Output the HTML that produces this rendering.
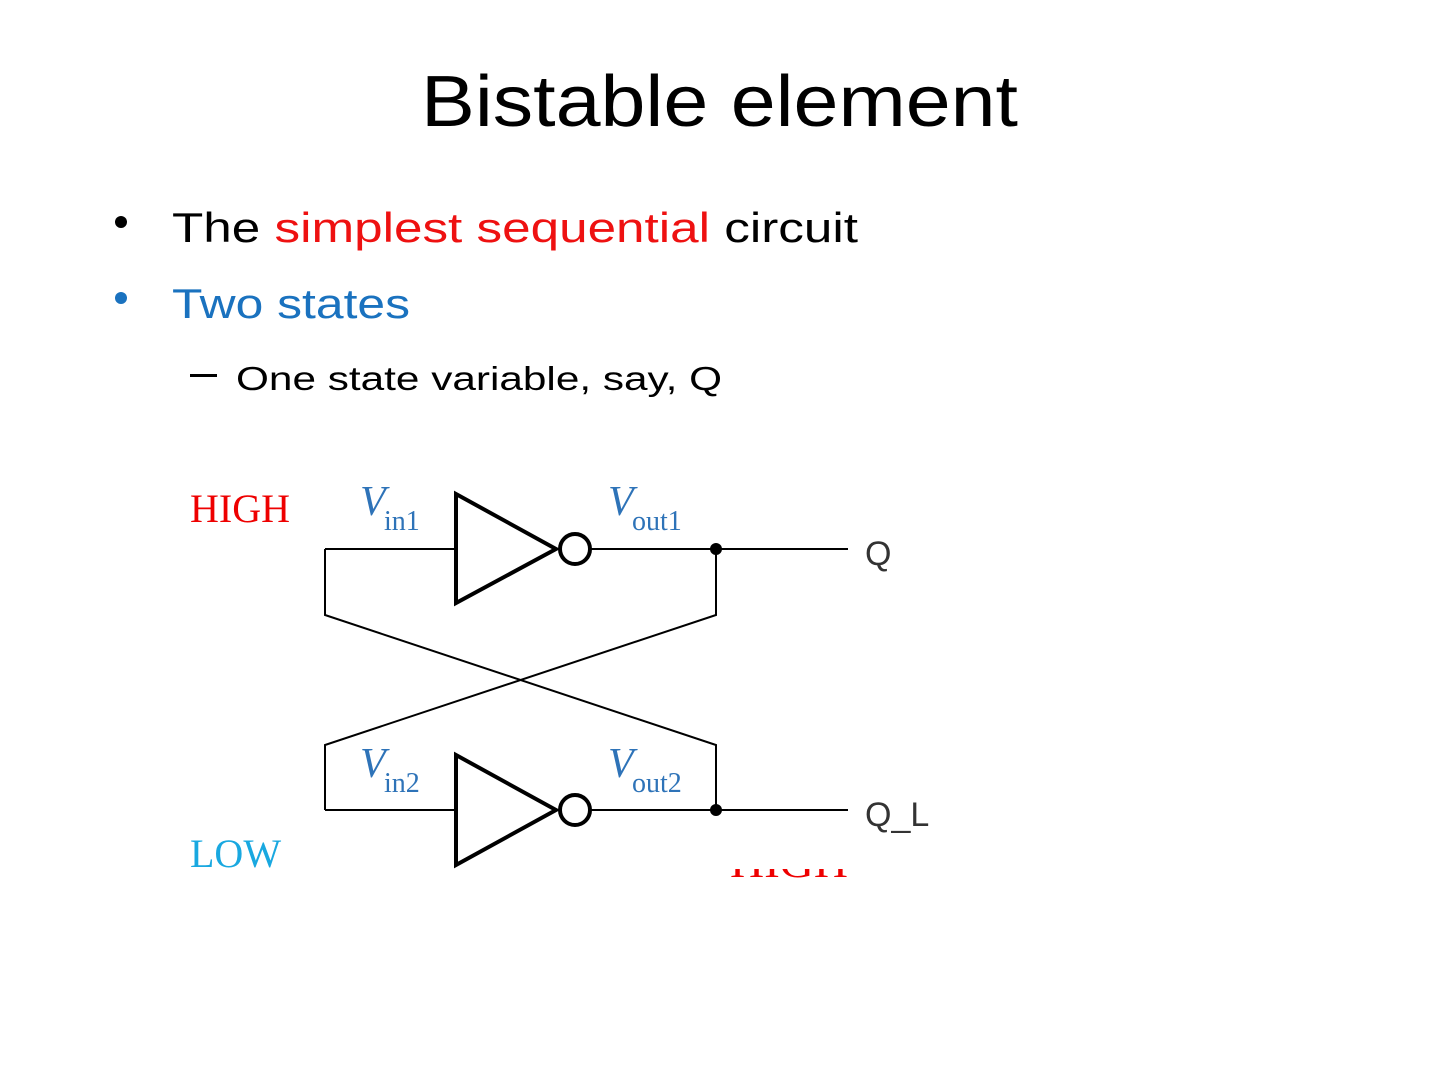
<!DOCTYPE html>
<html><head><meta charset="utf-8"><style>html,body{margin:0;padding:0;background:#fff}svg{display:block}</style></head>
<body>
<svg width="1440" height="1080" viewBox="0 0 1440 1080" xmlns="http://www.w3.org/2000/svg">
<rect width="1440" height="1080" fill="#fff"/>
<g font-family="Liberation Sans, sans-serif">
<text x="421" y="126" font-size="72" textLength="597" lengthAdjust="spacingAndGlyphs">Bistable element</text>
<circle cx="121" cy="222" r="6" fill="#000"/>
<text x="172" y="242" font-size="42" textLength="686" lengthAdjust="spacingAndGlyphs"><tspan fill="#000">The </tspan><tspan fill="#ee1111">simplest sequential</tspan><tspan fill="#000"> circuit</tspan></text>
<circle cx="121" cy="298" r="6" fill="#1a72bf"/>
<text x="172" y="318" font-size="42" fill="#1a72bf" textLength="238" lengthAdjust="spacingAndGlyphs">Two states</text>
<rect x="190" y="374" width="27" height="3" fill="#000"/>
<text x="236" y="390" font-size="33" textLength="486" lengthAdjust="spacingAndGlyphs">One state variable, say, Q</text>
</g>
<!-- partially hidden HIGH -->
<text x="730" y="877" font-family="Liberation Serif, serif" font-size="40" fill="#e00" textLength="118" lengthAdjust="spacingAndGlyphs">HIGH</text>
<rect x="700" y="820" width="260" height="49" fill="#fff"/>
<g stroke="#000" fill="none">
<g stroke-width="2">
<polyline points="325,549 455,549"/>
<polyline points="588,549 848,549"/>
<polyline points="325,549 325,615 716,745 716,810"/>
<polyline points="716,549 716,615 325,745 325,810"/>
<polyline points="325,810 455,810"/>
<polyline points="588,810 848,810"/>
</g>
<g stroke-width="4">
<polygon points="456,494 556,549 456,603"/>
<circle cx="575" cy="549" r="15"/>
<polygon points="456,755 556,810 456,865"/>
<circle cx="575" cy="810" r="15"/>
</g>
</g>
<circle cx="716" cy="549" r="6" fill="#000"/>
<circle cx="716" cy="810" r="6" fill="#000"/>
<g font-family="Liberation Sans, sans-serif" font-size="34" fill="#333">
<text x="865" y="565">Q</text>
<text x="865" y="826">Q_L</text>
</g>
<g font-family="Liberation Serif, serif" fill="#2e73b8">
<text x="360" y="515" font-size="42" font-style="italic">V</text><text x="384" y="530" font-size="28">in1</text>
<text x="608" y="515" font-size="42" font-style="italic">V</text><text x="632" y="530" font-size="28">out1</text>
<text x="360" y="777" font-size="42" font-style="italic">V</text><text x="384" y="792" font-size="28">in2</text>
<text x="608" y="777" font-size="42" font-style="italic">V</text><text x="632" y="792" font-size="28">out2</text>
</g>
<text x="190" y="522" font-family="Liberation Serif, serif" font-size="40" fill="#e00">HIGH</text>
<text x="190" y="867" font-family="Liberation Serif, serif" font-size="40" fill="#19a8e0">LOW</text>
</svg>
</body></html>
